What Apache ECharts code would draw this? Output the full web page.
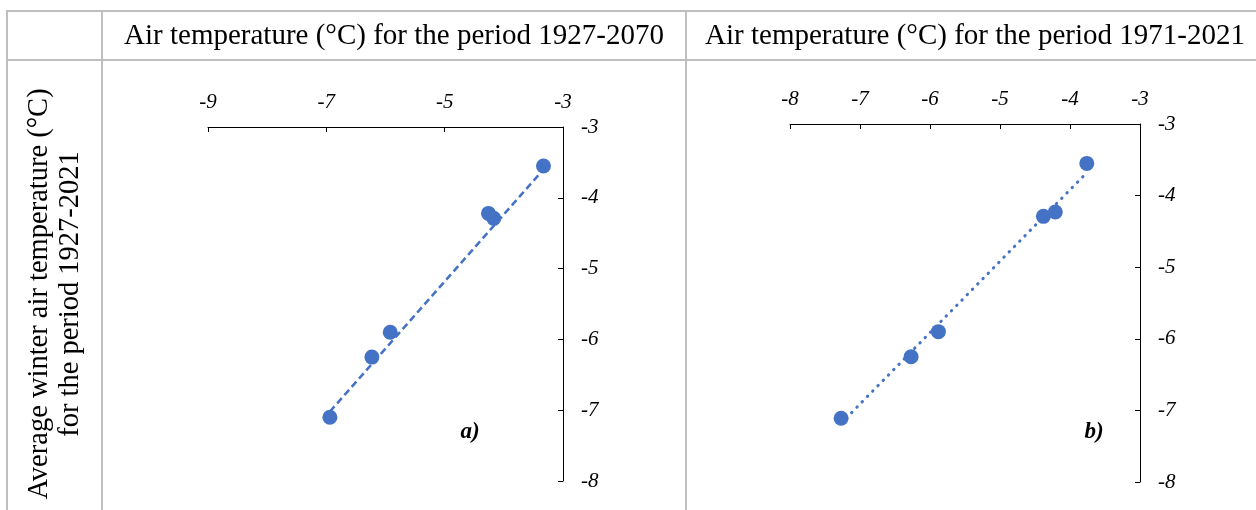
<!DOCTYPE html>
<html>
<head>
<meta charset="utf-8">
<script src="https://cdn.jsdelivr.net/npm/echarts@6/dist/echarts.min.js"></script>
<style>html,body{margin:0;padding:0;background:#fff}#c{width:1256px;height:510px}</style>
</head>
<body>
<div id="c"></div>
<script>
// Panel a) 1927-2070
const xA = [-6.94, -6.23, -5.92, -4.26, -4.17, -3.33];
const yA = [-7.10, -6.25, -5.90, -4.22, -4.29, -3.55];
const trendAx = [-6.94, -3.33];
const trendAy = [-7.02, -3.60];
// Panel b) 1971-2021
const xB = [-7.27, -6.27, -5.88, -4.38, -4.21, -3.76];
const yB = [-7.11, -6.25, -5.90, -4.29, -4.23, -3.55];
const trendBx = [-7.27, -3.76];
const trendBy = [-7.18, -3.68];

const headers = ['Air temperature (°C) for the period 1927-2070', 'Air temperature (°C) for the period 1971-2021'];
const yLabelLines = ['Average winter air temperature (°C)', 'for the period 1927-2021'];
const panelTags = ['a)', 'b)'];

const serif = '"Liberation Serif", "Times New Roman", serif';
const blue = '#4472C4';
const gridCol = '#bfbfbf';

function zip(xs, ys) { return xs.map((x, i) => [x, ys[i]]); }

const axisLabelStyle = { fontFamily: serif, fontStyle: 'italic', fontSize: 21, color: '#000' };

function xAxisCfg(idx, min, max, interval) {
  return {
    type: 'value', gridIndex: idx, position: 'top', min, max, interval,
    axisLine: { show: true, onZero: false, lineStyle: { color: '#000', width: 1 } },
    axisTick: { show: true, inside: true, length: 5, lineStyle: { color: '#000' } },
    splitLine: { show: false },
    axisLabel: Object.assign({ margin: 14 }, axisLabelStyle)
  };
}
function yAxisCfg(idx) {
  return {
    type: 'value', gridIndex: idx, position: 'right', min: -8, max: -3, interval: 1,
    axisLine: { show: true, onZero: false, lineStyle: { color: '#000', width: 1 } },
    axisTick: { show: true, inside: true, length: 5, lineStyle: { color: '#000' } },
    splitLine: { show: false },
    axisLabel: Object.assign({ margin: 18 }, axisLabelStyle)
  };
}

const lines = [
  [7, 11, 7, 510], [102, 11, 102, 510], [686, 11, 686, 510],
  [6, 11, 1256, 11], [6, 60, 1256, 60]
].map(p => ({
  type: 'line', silent: true,
  shape: { x1: p[0], y1: p[1], x2: p[2], y2: p[3] },
  style: { stroke: gridCol, lineWidth: 2 }
}));

const texts = [
  { type: 'text', x: 394, y: 36, style: { text: headers[0], font: '29px ' + serif, fill: '#000', textAlign: 'center', textVerticalAlign: 'middle' } },
  { type: 'text', x: 975, y: 36, style: { text: headers[1], font: '29px ' + serif, fill: '#000', textAlign: 'center', textVerticalAlign: 'middle' } },
  { type: 'text', x: 40, y: 294, rotation: Math.PI / 2, style: { text: yLabelLines[0], font: '28.5px ' + serif, fill: '#000', textAlign: 'center', textVerticalAlign: 'middle' } },
  { type: 'text', x: 71, y: 294, rotation: Math.PI / 2, style: { text: yLabelLines[1], font: '28.5px ' + serif, fill: '#000', textAlign: 'center', textVerticalAlign: 'middle' } },
  { type: 'text', x: 470, y: 432, style: { text: panelTags[0], font: 'italic bold 23px ' + serif, fill: '#000', textAlign: 'center', textVerticalAlign: 'middle' } },
  { type: 'text', x: 1094, y: 432, style: { text: panelTags[1], font: 'italic bold 23px ' + serif, fill: '#000', textAlign: 'center', textVerticalAlign: 'middle' } }
];

const chart = echarts.init(document.getElementById('c'), null, { renderer: 'canvas' });
chart.setOption({
  animation: false,
  backgroundColor: '#fff',
  grid: [
    { left: 208, top: 127, width: 355, height: 354 },
    { left: 790, top: 124, width: 350, height: 358 }
  ],
  xAxis: [xAxisCfg(0, -9, -3, 2), xAxisCfg(1, -8, -3, 1)],
  yAxis: [yAxisCfg(0), yAxisCfg(1)],
  graphic: lines.concat(texts),
  series: [
    { type: 'line', xAxisIndex: 0, yAxisIndex: 0, data: zip(trendAx, trendAy), symbol: 'none',
      lineStyle: { color: blue, width: 2.5, type: [7, 4] }, z: 2 },
    { type: 'scatter', xAxisIndex: 0, yAxisIndex: 0, data: zip(xA, yA), symbolSize: 15,
      itemStyle: { color: blue, opacity: 1 }, z: 3 },
    { type: 'line', xAxisIndex: 1, yAxisIndex: 1, data: zip(trendBx, trendBy), symbol: 'none',
      lineStyle: { color: blue, width: 3, type: [0.5, 7], cap: 'round' }, z: 2 },
    { type: 'scatter', xAxisIndex: 1, yAxisIndex: 1, data: zip(xB, yB), symbolSize: 15,
      itemStyle: { color: blue, opacity: 1 }, z: 3 }
  ]
});
</script>
</body>
</html>
